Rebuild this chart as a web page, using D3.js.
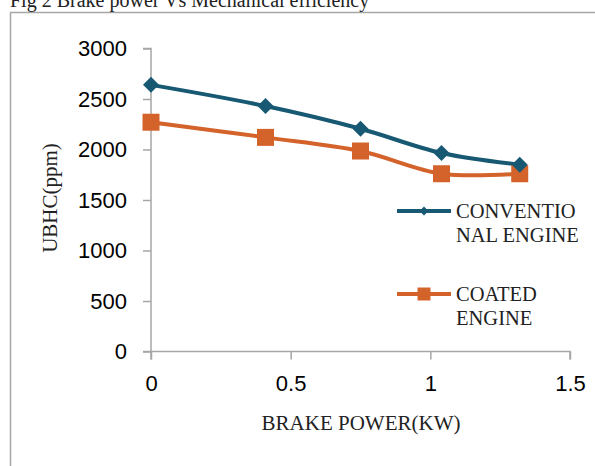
<!DOCTYPE html>
<html>
<head>
<meta charset="utf-8">
<script src="https://cdn.jsdelivr.net/npm/d3@7"></script>
<style>
  body { margin: 0; background: #fff; }
  svg { display: block; }
  .tick text { font-family: Arial, "Liberation Sans", sans-serif; font-size: 22px; fill: #000; }
  .serif { font-family: "Times New Roman", "Liberation Serif", serif; fill: #222; }
</style>
</head>
<body>
<div id="chart"></div>
<script>
// data
const brakePower = [0, 0.41, 0.75, 1.04, 1.32];
const conventional = [2640, 2430, 2205, 1965, 1850];
const coated = [2270, 2120, 1985, 1760, 1760];
const xTicks = [0, 0.5, 1, 1.5];
const yTicks = [0, 500, 1000, 1500, 2000, 2500, 3000];

const width = 595, height = 466;
const blue = '#175873', orange = '#d4622b', grey = '#a6a6a6';

const svg = d3.select('#chart').append('svg')
  .attr('width', width)
  .attr('height', height);

// frame around the figure
svg.append('path')
  .attr('d', `M10.5,${height} V12.5 H${width}`)
  .attr('fill', 'none')
  .attr('stroke', grey)
  .attr('stroke-width', 1.5);

// title, half cut off at the top like in the scan
svg.append('text')
  .attr('class', 'serif')
  .attr('x', 10)
  .attr('y', 7)
  .attr('font-size', 20)
  .text('Fig 2 Brake power Vs Mechanical efficiency');

const x = d3.scaleLinear().domain([0, 1.5]).range([151, 570]);
const y = d3.scaleLinear().domain([0, 3000]).range([351.5, 48.5]);

// axes
const xAxis = svg.append('g')
  .attr('transform', `translate(0,${y(0)})`)
  .call(d3.axisBottom(x).tickValues(xTicks).tickFormat(d3.format('')).tickSize(8).tickPadding(16));

const yAxis = svg.append('g')
  .attr('transform', `translate(${x(0)},0)`)
  .call(d3.axisLeft(y).tickValues(yTicks).tickFormat(d3.format('d')).tickSize(8).tickPadding(16));

[xAxis, yAxis].forEach(g => {
  g.select('.domain').attr('stroke', grey).attr('stroke-width', 1.5);
  g.selectAll('.tick line').attr('stroke', grey).attr('stroke-width', 1.5);
});
xAxis.select('.domain').attr('d', `M${x(0) - 8},0H${x(1.5)}V8`);
yAxis.select('.domain').attr('d', `M-8,${y(3000)}H0V${y(0) + 8}`);

// axis titles
svg.append('text')
  .attr('class', 'serif')
  .attr('x', 361)
  .attr('y', 430)
  .attr('text-anchor', 'middle')
  .attr('font-size', 21)
  .text('BRAKE POWER(KW)');

svg.append('text')
  .attr('class', 'serif')
  .attr('transform', 'translate(57,198) rotate(-90)')
  .attr('text-anchor', 'middle')
  .attr('font-size', 21)
  .text('UBHC(ppm)');

// series
const line = d3.line()
  .x(d => x(d[0]))
  .y(d => y(d[1]))
  .curve(d3.curveCatmullRom);

const diamond = h => `M0,${-h}L${h},0L0,${h}L${-h},0Z`;
const square = h => `M${-h},${-h}H${h}V${h}H${-h}Z`;

const series = [
  { name: ['CONVENTIO', 'NAL ENGINE'], values: conventional, color: blue, shape: diamond, size: 16, legendSize: 9, legendY: 211 },
  { name: ['COATED', 'ENGINE'], values: coated, color: orange, shape: square, size: 17, legendSize: 13, legendY: 294 }
];

// coated first so the conventional line sits on top
series.slice().reverse().forEach(s => {
  const pts = brakePower.map((b, i) => [b, s.values[i]]);
  svg.append('path')
    .attr('d', line(pts))
    .attr('fill', 'none')
    .attr('stroke', s.color)
    .attr('stroke-width', 4);
});

series.slice().reverse().forEach(s => {
  const pts = brakePower.map((b, i) => [b, s.values[i]]);
  svg.append('g').selectAll('path')
    .data(pts)
    .join('path')
    .attr('transform', d => `translate(${x(d[0])},${y(d[1])})`)
    .attr('d', s.shape(s.size / 2))
    .attr('fill', s.color);
});

// legend
series.forEach(s => {
  const g = svg.append('g').attr('transform', `translate(0,${s.legendY})`);
  g.append('line')
    .attr('x1', 397).attr('x2', 451)
    .attr('stroke', s.color)
    .attr('stroke-width', 4);
  g.append('path')
    .attr('transform', 'translate(424,0)')
    .attr('d', s.shape(s.legendSize / 2))
    .attr('fill', s.color);
  g.selectAll('text')
    .data(s.name)
    .join('text')
    .attr('class', 'serif')
    .attr('x', 456)
    .attr('y', (d, i) => 7 + i * 24)
    .attr('font-size', 20.5)
    .text(d => d);
});
</script>
</body>
</html>
